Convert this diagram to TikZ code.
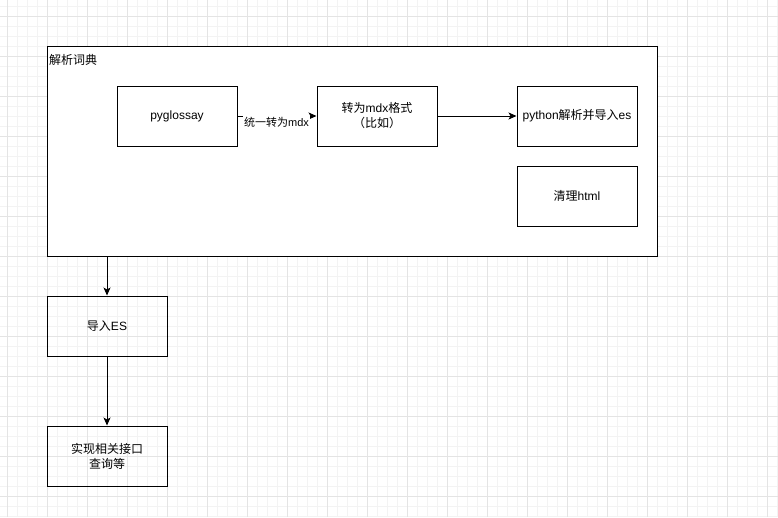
\documentclass[tikz,border=0pt]{standalone}
\usepackage{fontspec}
\setmainfont{Liberation Sans}
\newfontfamily\cjk{Noto Sans CJK SC}
\usetikzlibrary{arrows.meta}
\definecolor{gridminor}{HTML}{F3F3F3}
\definecolor{gridmajor}{HTML}{E4E4E4}
\begin{document}
\begin{tikzpicture}[x=1pt,y=-1pt,
  txt/.style={font=\fontsize{12}{15}\selectfont},
  box/.style={draw, line width=1pt, minimum width=120pt, minimum height=60pt, align=center, inner sep=1pt, txt},
  conn/.style={line width=1pt, -{Stealth[length=8pt,width=7pt,inset=2pt]}}
]
\useasboundingbox (0,0) rectangle (778,517);
\fill[white] (0,0) rectangle (778,517);
\foreach \x in {7,17,...,777} \draw[gridminor, line width=0.8pt] (\x,0) -- (\x,517);
\foreach \y in {6,16,...,516} \draw[gridminor, line width=0.8pt] (0,\y) -- (778,\y);
\foreach \x in {7,47,...,767} \draw[gridmajor, line width=0.8pt] (\x,0) -- (\x,517);
\foreach \y in {16,56,...,496} \draw[gridmajor, line width=0.8pt] (0,\y) -- (778,\y);

\node[draw, fill=white, line width=1pt, minimum width=610pt, minimum height=210pt, inner sep=0pt] (c) at (352,151) {};
\node[txt, anchor=west, inner sep=0pt] (ct) at (49,60) {\cjk 解析词典};

\node[box] (p) at (177,116) {pyglossay};
\node[box] (m) at (377,116) {{\cjk 转为}mdx{\cjk 格式}\\{\cjk （比如）}};
\node[box] (py) at (577,116) {python{\cjk 解析并导入}es};
\node[box] (h) at (577,196) {{\cjk 清理}html};
\node[box] (es) at (107,326) {{\cjk 导入}ES};
\node[box] (api) at (107,456) {{\cjk 实现相关接口}\\{\cjk 查询等}};

\draw[conn] (p) -- (m);
\node[font=\fontsize{11}{13}\selectfont, fill=white, inner sep=1pt] (lab) at (276.5,122) {{\cjk 统一转为}mdx};
\draw[conn] (m) -- (py);
\draw[conn] (c.south -| es) -- (es);
\draw[conn] (es) -- (api);
\end{tikzpicture}
\end{document}
